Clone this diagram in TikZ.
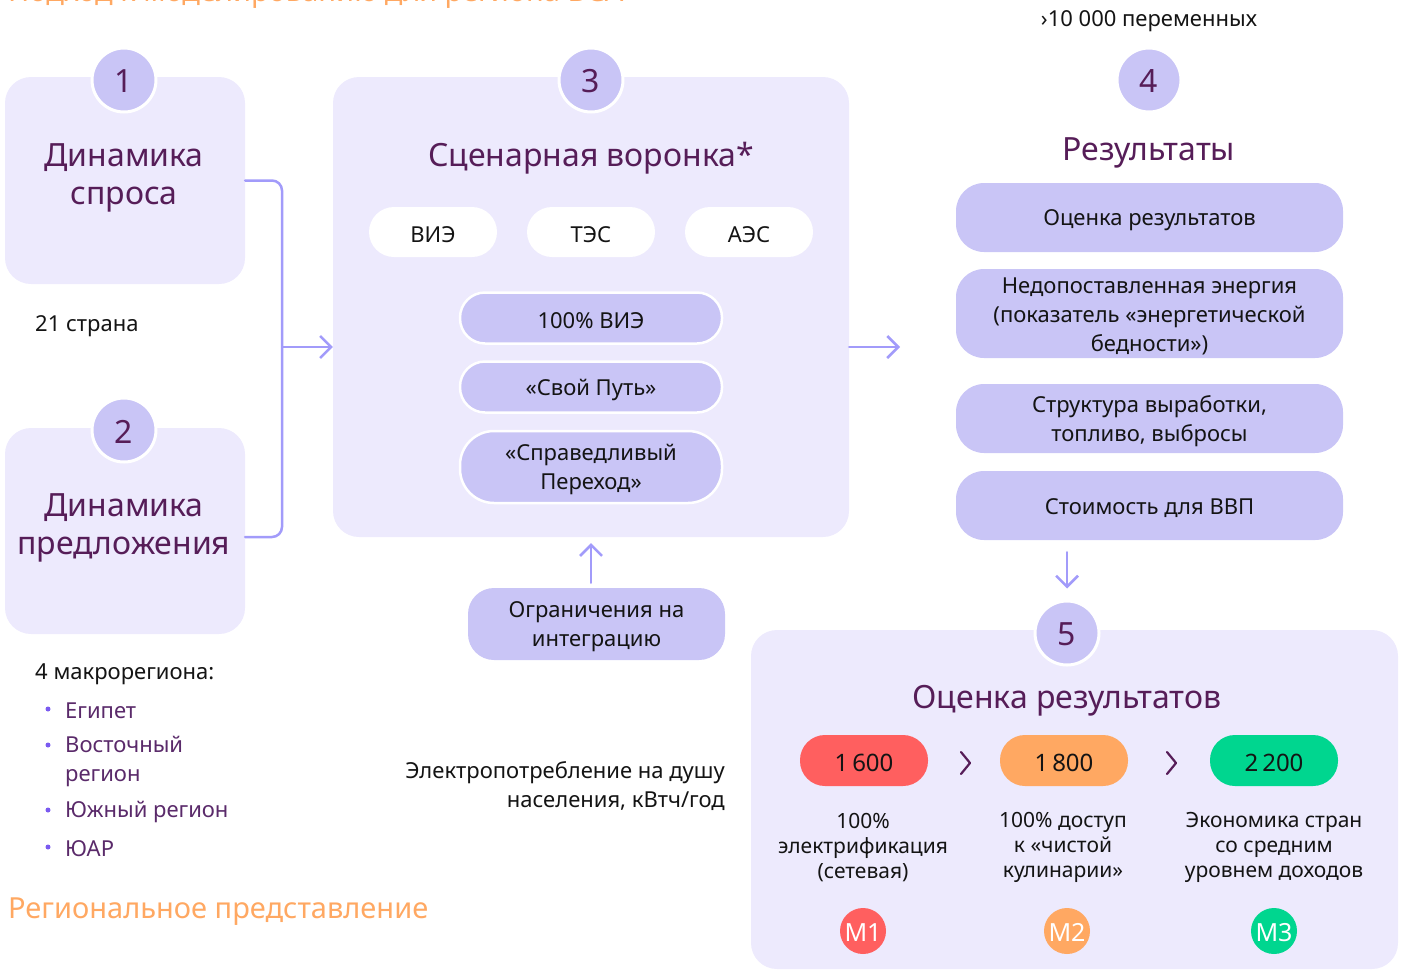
\documentclass[tikz,border=0pt]{standalone}
\usepackage{fontspec}
\setmainfont{Noto Sans}
\usetikzlibrary{arrows.meta}
\definecolor{lite}{HTML}{EDEAFD}
\definecolor{mid}{HTML}{C9C5F6}
\definecolor{dark}{HTML}{561D58}
\definecolor{conncol}{HTML}{A29BFA}
\definecolor{orng}{HTML}{FFA862}
\definecolor{redc}{HTML}{FF5F5F}
\definecolor{grnc}{HTML}{00D68F}
\definecolor{bulc}{HTML}{7A5AF0}
\definecolor{txt}{HTML}{141414}
\definecolor{itemc}{HTML}{5A2A6A}
\newcommand\fsz[2]{\fontsize{#1pt}{#2pt}\selectfont}
\begin{document}
\begin{tikzpicture}[x=1pt,y=-1pt,
  panel/.style={fill=lite, rounded corners=26, inner sep=0},
  numc/.style={circle, fill=mid, draw=white, line width=3, minimum size=64, inner sep=0},
  numt/.style={text=dark, font=\fsz{32}{36}, inner sep=0},
  ttl/.style={text=dark, align=center, font=\fsz{32}{38}, yshift=-3.5pt},
  body/.style={text=txt, font=\fsz{22}{29}, inner sep=0, yshift=-2.5pt},
  lbl/.style={text=txt, align=center, font=\fsz{22}{29}, inner sep=0},
  wpill/.style={fill=white, rounded corners=25, minimum width=128, minimum height=50, inner sep=0},
  ppill/.style={fill=mid, draw=white, line width=2.5, rounded corners=25, minimum width=262, minimum height=51, inner sep=0},
  rbox/.style={fill=mid, rounded corners=28, minimum width=387, inner sep=0},
  conn/.style={draw=conncol, line width=2.5, line cap=round, line join=round},
  tip/.style={-{Straight Barb[length=11pt,width=22pt,line width=2.5pt]}},
  valpill/.style={rounded corners=25, minimum width=128, minimum height=51, inner sep=0},
  valt/.style={text=txt, font=\fsz{24}{26}, inner sep=0},
  desc/.style={text=txt, align=center, font=\fsz{21}{25}, yshift=-2.5pt},
  mcirc/.style={circle, minimum size=46, inner sep=0},
  mt/.style={text=white, font=\fsz{25}{26}, inner sep=0},
  item/.style={text=itemc, font=\fsz{22}{29}, inner sep=0, anchor=west, align=left, yshift=-1.5pt},
  bul/.style={circle, fill=bulc, inner sep=0, minimum size=5},
  chev/.style={draw=dark, line width=2.2, line cap=round, line join=round}
]
\useasboundingbox (0,0) rectangle (1402,970);
\clip (0,0) rectangle (1402,970);

% cut-off heading
\node[text=orng, font=\fsz{29}{30}, anchor=base west, inner sep=0] (head) at (8,1.5) {Подход к моделированию для региона ВСА};

% ---- block 1
\node[panel, minimum width=240, minimum height=207] (b1) at (125,180.5) {};
\node[numc] (c1) at (124,80) {};
\node[numt] (c1t) at ([yshift=-1.5pt]c1.center) {1};
\node[ttl] (t1) at (124,174) {Динамика\\спроса};
\node[body, anchor=west] (n21) at (35,324) {21 страна};

% ---- block 2
\node[panel, minimum width=240, minimum height=206] (b2) at (125,531) {};
\node[numc] (c2) at (124,430) {};
\node[numt] (c2t) at ([yshift=-1.5pt]c2.center) {2};
\node[ttl] (t2) at (124,524) {Динамика\\предложения};
\node[body, anchor=west] (n4) at (35,672) {4 макрорегиона:};
\node[bul] (d1) at (48,709) {};
\node[item] (i1) at (65,709) {Египет};
\node[bul] (d2) at (48,745) {};
\node[item] (i2) at (65,759.5) {Восточный\\регион};
\node[bul] (d3) at (48,810) {};
\node[item] (i3) at (65,810) {Южный регион};
\node[bul] (d4) at (48,847) {};
\node[item] (i4) at (65,847) {ЮАР};
\node[text=orng, font=\fsz{29}{30}, anchor=west, inner sep=0, yshift=-3pt] (reg) at (8,909) {Региональное представление};

% ---- block 3
\node[panel, minimum width=516, minimum height=460] (b3) at (591,307) {};
\node[numc] (c3) at (591,80) {};
\node[numt] (c3t) at ([yshift=-1.5pt]c3.center) {3};
\node[ttl] (t3) at (591,155) {Сценарная воронка*};
\node[wpill] (p1) at (433,232) {};
\node[lbl] (p1t) at ([yshift=-2.5pt]p1.center) {ВИЭ};
\node[wpill] (p2) at (591,232) {};
\node[lbl] (p2t) at ([yshift=-2.5pt]p2.center) {ТЭС};
\node[wpill] (p3) at (749,232) {};
\node[lbl] (p3t) at ([yshift=-2.5pt]p3.center) {АЭС};
\node[ppill] (s1) at (591,318) {};
\node[lbl] (s1t) at ([yshift=-2.5pt]s1.center) {100\% ВИЭ};
\node[ppill] (s2) at (591,387) {};
\node[lbl] (s2t) at ([yshift=-2.5pt]s2.center) {«Свой Путь»};
\node[ppill, minimum height=72, rounded corners=34] (s3) at (591,467) {};
\node[lbl] (s3t) at ([yshift=-2.5pt]s3.center) {«Справедливый\\Переход»};

% limits
\node[fill=mid, rounded corners=26, minimum width=257, minimum height=72, inner sep=0] (lim) at (596.5,624) {};
\node[lbl] (limt) at ([yshift=-2.5pt]lim.center) {Ограничения на\\интеграцию};
\node[body, align=right, anchor=east] (elec) at (725,783.5) {Электропотребление на душу\\населения, кВтч/год};

% ---- connectors left
\draw[conn, rounded corners=10] (b1.east) -| (282,360) |- ([yshift=-6pt]b2.east);
\coordinate (j) at (282,347);
\draw[conn, tip] (j) -- (j -| b3.west);
\draw[conn, tip] ([yshift=5pt]b3.south |- lim.north) -- ([yshift=-6pt]b3.south);

% ---- block 4
\node[body, text=txt] (vars) at (1149,19) {›10 000 переменных};
\node[numc] (c4) at (1149,80) {};
\node[numt] (c4t) at ([yshift=-1.5pt]c4.center) {4};
\node[ttl] (t4) at (1149,149) {Результаты};
\node[rbox, minimum height=69] (r1) at (1149.5,217.5) {};
\node[lbl] (r1t) at ([yshift=-2.5pt]r1.center) {Оценка результатов};
\node[rbox, minimum height=89] (r2) at (1149.5,313.5) {};
\node[lbl] (r2t) at ([yshift=-2.5pt]r2.center) {Недопоставленная энергия\\(показатель «энергетической\\бедности»)};
\node[rbox, minimum height=69] (r3) at (1149.5,418.5) {};
\node[lbl] (r3t) at ([yshift=-2.5pt]r3.center) {Структура выработки,\\топливо, выбросы};
\node[rbox, minimum height=69] (r4) at (1149.5,505.5) {};
\node[lbl] (r4t) at ([yshift=-2.5pt]r4.center) {Стоимость для ВВП};
\coordinate (r4in) at (900,347);
\draw[conn, tip] (b3.east |- j) -- (r4in);

% ---- block 5
\node[panel, minimum width=647, minimum height=339] (b5) at (1074.5,799.5) {};
\node[numc] (c5) at (1067,633) {};
\node[numt] (c5t) at ([yshift=-1.5pt]c5.center) {5};
\draw[conn, tip] ([yshift=-12pt]c5 |- r4.south) -- ([yshift=11pt]c5.north);
\node[ttl] (t5) at (1067,697) {Оценка результатов};
\node[valpill, fill=redc] (v1) at (864,760.5) {};
\node[valt] (v1t) at ([yshift=-2pt]v1.center) {1\,600};
\node[valpill, fill=orng] (v2) at (1064,760.5) {};
\node[valt] (v2t) at ([yshift=-2pt]v2.center) {1\,800};
\node[valpill, fill=grnc] (v3) at (1274,760.5) {};
\node[valt] (v3t) at ([yshift=-2pt]v3.center) {2\,200};
\draw[chev] (961,752) -- (970,763) -- (961,774);
\draw[chev] (1167,752) -- (1176,763) -- (1167,774);
\node[desc] (e1) at (863,845) {100\%\\электрификация\\(сетевая)};
\node[desc] (e2) at (1063,845) {100\% доступ\\к «чистой\\кулинарии»};
\node[desc] (e3) at (1274,845) {Экономика стран\\со средним\\уровнем доходов};
\node[mcirc, fill=redc] (m1) at (863,931) {};
\node[mt] (m1t) at ([yshift=-1.5pt]m1.center) {M1};
\node[mcirc, fill=orng] (m2) at (1067,931) {};
\node[mt] (m2t) at ([yshift=-1.5pt]m2.center) {M2};
\node[mcirc, fill=grnc] (m3) at (1274,931) {};
\node[mt] (m3t) at ([yshift=-1.5pt]m3.center) {M3};
\end{tikzpicture}
\end{document}
